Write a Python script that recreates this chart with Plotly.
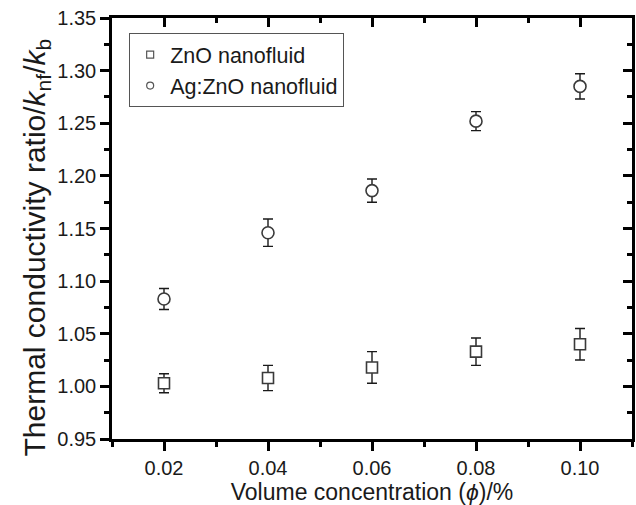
import plotly.graph_objects as go

# Volume concentration (phi, %)
concentration = [0.02, 0.04, 0.06, 0.08, 0.10]

# Thermal conductivity ratio k_nf / k_b
zno_ratio = [1.003, 1.008, 1.018, 1.033, 1.040]
zno_err = [0.009, 0.012, 0.015, 0.013, 0.015]

agzno_ratio = [1.083, 1.146, 1.186, 1.252, 1.285]
agzno_err = [0.010, 0.013, 0.011, 0.009, 0.012]

series_names = ["ZnO nanofluid", "Ag:ZnO nanofluid"]

x_ticks = [0.02, 0.04, 0.06, 0.08, 0.10]
y_ticks = [0.95, 1.00, 1.05, 1.10, 1.15, 1.20, 1.25, 1.30, 1.35]

FONT = "Liberation Sans, Arial, sans-serif"
MARKER_LINE = "#3a3a3a"
INK = "#1a1a1a"

fig = go.Figure()


def add_series(y, err, symbol, size, name):
    fig.add_trace(go.Scatter(
        x=concentration, y=y, mode="markers", name=name, legendgroup=name,
        showlegend=False,
        marker=dict(symbol=symbol, size=size, color="white",
                    line=dict(color=MARKER_LINE, width=1.6)),
        error_y=dict(type="data", array=err, visible=True,
                     color=INK, thickness=1.4, width=5),
    ))
    # smaller symbol for the legend key
    fig.add_trace(go.Scatter(
        x=[None], y=[None], mode="markers", name=name, legendgroup=name,
        marker=dict(symbol=symbol, size=7, color="white",
                    line=dict(color="#555555", width=1.2)),
    ))


add_series(zno_ratio, zno_err, "square", 11, series_names[0])
add_series(agzno_ratio, agzno_err, "circle", 12, series_names[1])

# empty trace so the mirrored top/right axes get drawn
fig.add_trace(go.Scatter(x=[], y=[], xaxis="x2", yaxis="y2", showlegend=False,
                         hoverinfo="skip"))

axis_common = dict(
    showline=True, linecolor="black", linewidth=2.5,
    showgrid=False, zeroline=False,
    tickcolor="black", tickwidth=2.5, ticklen=9,
    tickfont=dict(family=FONT, size=20, color=INK),
)

fig.update_layout(
    width=636, height=505,
    margin=dict(l=112, r=4, t=18, b=66),
    paper_bgcolor="white", plot_bgcolor="white",
    font=dict(family=FONT, color=INK),
    xaxis=dict(
        **axis_common,
        range=[0.01, 0.11], tickvals=x_ticks, ticktext=[f"{v:.2f}" for v in x_ticks],
        ticks="outside",
        minor=dict(dtick=0.01, tick0=0.01, ticks="outside", ticklen=5,
                   tickwidth=2.5, tickcolor="black"),
        title=dict(text="Volume concentration (<i>\u03d5</i>)/%",
                   font=dict(family=FONT, size=23, color=INK), standoff=6),
    ),
    yaxis=dict(
        **axis_common,
        range=[0.95, 1.35], tickvals=y_ticks, ticktext=[f"{v:.2f}" for v in y_ticks],
        ticks="outside",
        minor=dict(dtick=0.025, tick0=0.95, ticks="outside", ticklen=5,
                   tickwidth=2.5, tickcolor="black"),
    ),
    xaxis2=dict(
        **axis_common,
        overlaying="x", side="top", anchor="y", matches="x",
        range=[0.01, 0.11], tickvals=x_ticks, showticklabels=False,
        ticks="inside",
        minor=dict(dtick=0.01, tick0=0.01, ticks="inside", ticklen=5,
                   tickwidth=2.5, tickcolor="black"),
    ),
    yaxis2=dict(
        **axis_common,
        overlaying="y", side="right", anchor="x", matches="y",
        range=[0.95, 1.35], tickvals=y_ticks, showticklabels=False,
        ticks="inside",
        minor=dict(dtick=0.025, tick0=0.95, ticks="inside", ticklen=5,
                   tickwidth=2.5, tickcolor="black"),
    ),
    legend=dict(
        x=0.033, y=0.964, xanchor="left", yanchor="top",
        bgcolor="white", bordercolor="#555555", borderwidth=1,
        font=dict(family=FONT, size=21.5, color=INK),
        tracegroupgap=0,
    ),
    showlegend=True,
)

# y-axis title, set as a rotated annotation left of the tick labels
fig.add_annotation(
    text="Thermal conductivity ratio/<i>k</i><sub>nf</sub>/<i>k</i><sub>b</sub>",
    xref="paper", yref="paper", x=-0.146, y=0.455,
    xanchor="center", yanchor="middle", textangle=-90, showarrow=False,
    font=dict(family=FONT, size=30, color=INK),
)

fig.write_html("out.html")
